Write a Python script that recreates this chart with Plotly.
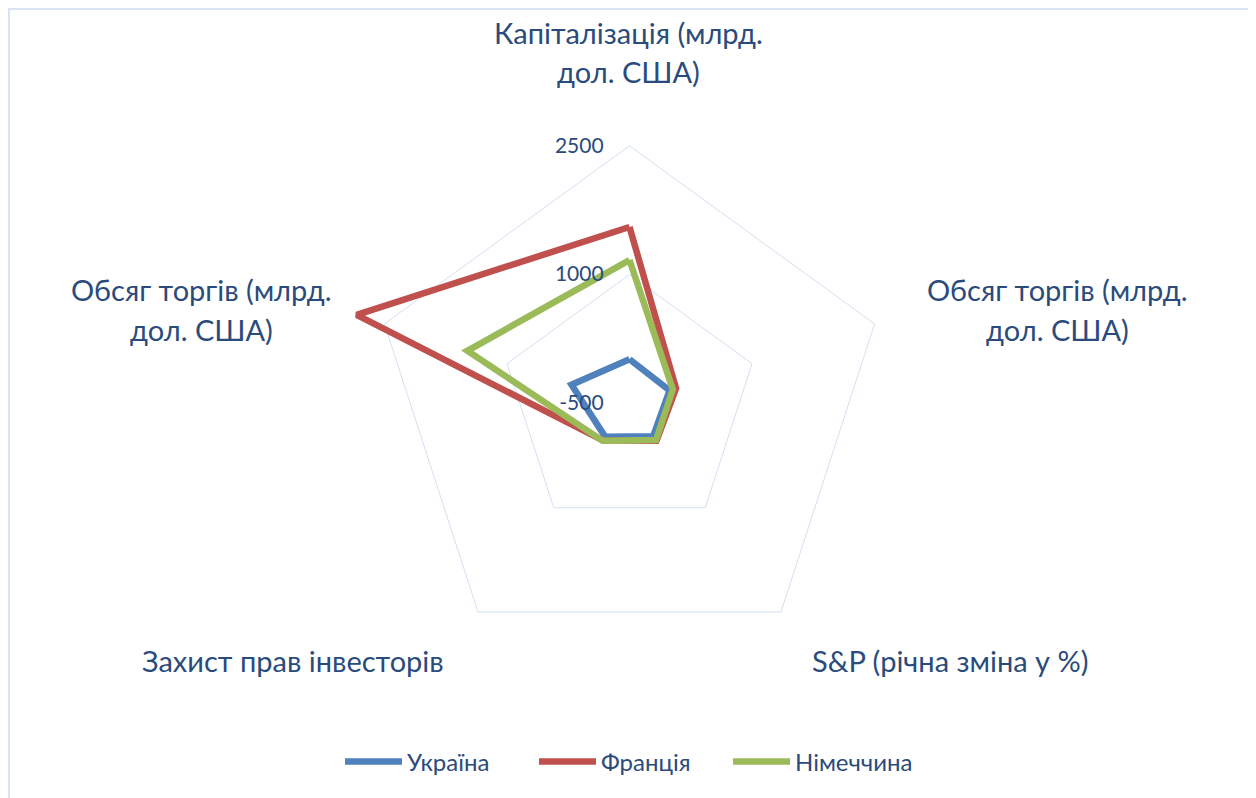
import plotly.graph_objects as go

# ---- data ----
categories = [
    "Капіталізація (млрд. дол. США)",
    "Обсяг торгів (млрд. дол. США)",
    "S&P (річна зміна у %)",
    "Захист прав інвесторів",
    "Обсяг торгів (млрд. дол. США)",
]
series_names = ["Україна", "Франція", "Німеччина"]
ukraine = [15, -10, -30, -20, 210]
france = [1555, 70, 35, 30, 2840]
germany = [1170, 30, 26, 35, 1485]
radial_ticks = [-500, 1000, 2500]

# ---- style ----
colors = ["#4F81BD", "#C0504D", "#9BBB59"]
text_color = "#2A4B7C"
font_family = "Lato, 'Open Sans', sans-serif"
OFF = 8                      # default body margin of the html page
W, H = 1256 - OFF, 798 - OFF  # figure size


def fx(px):
    return (px - OFF) / W


def fy(py):
    return 1 - (py - OFF) / H


# categorical angular positions (indices, because two categories share a name)
theta_ids = [str(i) for i in range(len(categories))]

fig = go.Figure()
for name, vals, col in zip(series_names, [ukraine, france, germany], colors):
    fig.add_trace(go.Scatterpolar(
        r=vals + vals[:1],
        theta=theta_ids + theta_ids[:1],
        mode="lines",
        name=name,
        line=dict(color=col, width=6.5),
    ))

# polar placement (page center ~ (629.5, 403.5) px, 2500 ring radius ~257.7 px)
cx, cy = 629.5, 403.5
r_outer_tick = 257.7
rmin, rmax = -500, 3000
R = r_outer_tick * (rmax - rmin) / (2500 - rmin)
xd = [fx(cx - R), fx(cx + R)]
yd = [fy(cy + R), fy(cy - R)]

fig.update_layout(
    width=W, height=H,
    margin=dict(l=0, r=0, t=0, b=0, autoexpand=False),
    paper_bgcolor="white",
    font=dict(family=font_family, color=text_color),
    polar=dict(
        domain=dict(x=xd, y=yd),
        bgcolor="white",
        gridshape="linear",
        radialaxis=dict(
            range=[rmin, rmax],
            tickvals=radial_ticks,
            ticktext=[str(v) for v in radial_ticks],
            angle=90,
            tickangle=90,
            side="counterclockwise",
            showline=False,
            ticks="outside",
            ticklen=18,
            tickcolor="rgba(0,0,0,0)",
            tickfont=dict(family=font_family, size=21, color=text_color),
            gridcolor="#D3E0F2",
            gridwidth=1.3,
        ),
        angularaxis=dict(
            type="category",
            categoryarray=theta_ids,
            showticklabels=False,
            rotation=90,
            direction="clockwise",
            showline=False,
            showgrid=False,
            ticks="",
        ),
    ),
    legend=dict(
        orientation="h",
        x=fx(631), xanchor="center",
        y=fy(762), yanchor="middle",
        font=dict(family=font_family, size=24, color=text_color),
        tracegroupgap=0,
        itemwidth=57,
        entrywidth=122,
        entrywidthmode="pixels",
    ),
    showlegend=True,
)

# category labels (wrapped as in the original)
label_pos = [
    [(628, 32), (628, 72)],
    [(1057, 289), (1057, 330)],
    [(950, 660)],
    [(293, 660)],
    [(201, 289), (201, 330)],
]
wraps = {0: ["Капіталізація (млрд.", "дол. США)"],
         1: ["Обсяг торгів (млрд.", "дол. США)"],
         4: ["Обсяг торгів (млрд.", "дол. США)"]}
for i, cat in enumerate(categories):
    lines = wraps.get(i, [cat])
    for line, (px, py) in zip(lines, label_pos[i]):
        fig.add_annotation(
            x=fx(px), y=fy(py), xref="paper", yref="paper",
            text=line, showarrow=False, xanchor="center", yanchor="middle",
            font=dict(family=font_family, size=29, color=text_color),
        )

# chart border
fig.add_shape(type="rect", xref="paper", yref="paper",
              x0=fx(9), x1=fx(1249), y0=-0.02, y1=fy(9),
              line=dict(color="#DAE3F3", width=2), fillcolor="rgba(0,0,0,0)")

fig.write_html("out.html")
